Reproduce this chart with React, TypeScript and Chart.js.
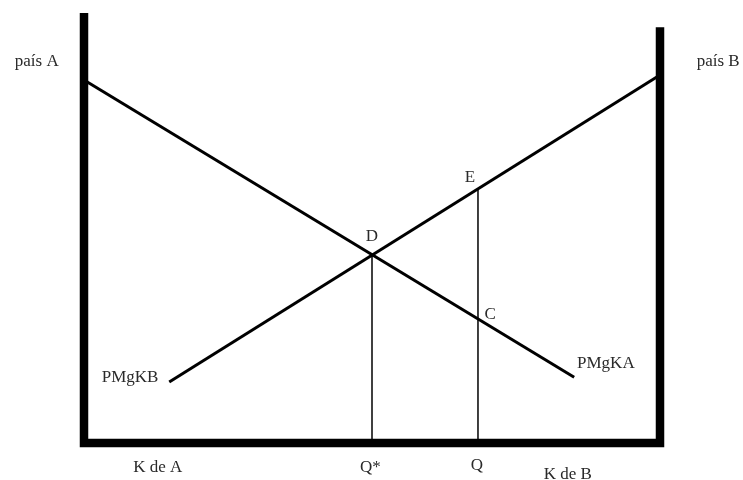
import React, { useEffect, useRef } from "react";
import { Chart, registerables } from "chart.js";

Chart.register(...registerables);

// Frame (the Edgeworth-type box): left wall, floor, right wall
const frameX = [0, 0, 100, 100];
const frameY = [100, 0, 0, 96.7];

// Marginal product of capital curves
const pmgkaX = [0, 85.1];
const pmgkaY = [84.4, 15.3];
const pmgkbX = [14.8, 100];
const pmgkbY = [14.2, 85.6];

// Vertical guides at Q* (through D) and Q (through E)
const qStarX = [50, 50];
const qStarY = [0, 43.8];
const qX = [68.4, 68.4];
const qY = [0, 59.1];

// Text labels and their anchor positions in data units
const labelTexts = ["país A", "país B", "PMgKB", "PMgKA", "D", "E", "C", "K de A", "Q*", "Q", "K de B"];
const labelX = [-8.2, 110.1, 8.0, 90.6, 50.0, 67.0, 70.5, 12.8, 49.7, 68.2, 84.0];
const labelY = [88.6, 88.6, 15.3, 18.4, 48.0, 61.7, 29.8, -5.6, -5.8, -5.3, -7.4];

const pts = (xs: number[], ys: number[]) => xs.map((x, i) => ({ x, y: ys[i] }));

export default function App() {
  const ref = useRef<HTMLCanvasElement | null>(null);

  useEffect(() => {
    if (!ref.current) return;
    const labelPlugin = {
      id: "labels",
      afterDatasetsDraw(chart: any) {
        const { ctx, scales } = chart;
        ctx.save();
        ctx.font = '17px "Liberation Serif", "DejaVu Serif", serif';
        ctx.fillStyle = "#2a2a2a";
        ctx.textAlign = "center";
        ctx.textBaseline = "middle";
        labelTexts.forEach((t, i) => {
          ctx.fillText(t, scales.x.getPixelForValue(labelX[i]), scales.y.getPixelForValue(labelY[i]));
        });
        ctx.restore();
      },
    };
    const line = (xs: number[], ys: number[], w: number) => ({
      data: pts(xs, ys),
      showLine: true,
      borderColor: "#000",
      backgroundColor: "#000",
      borderWidth: w,
      pointRadius: 0,
      borderJoinStyle: "miter" as const,
      borderCapStyle: "butt" as const,
      clip: false as any,
    });
    const chart = new Chart(ref.current, {
      type: "scatter",
      data: {
        datasets: [
          line(frameX, frameY, 8.5),
          line(pmgkaX, pmgkaY, 3),
          line(pmgkbX, pmgkbY, 3),
          line(qStarX, qStarY, 1.5),
          line(qX, qY, 1.5),
        ],
      },
      options: {
        responsive: false,
        animation: false,
        devicePixelRatio: 1,
        layout: { padding: { left: 84, right: 83, top: 13, bottom: 37 } },
        plugins: { legend: { display: false }, tooltip: { enabled: false } },
        scales: {
          x: { type: "linear", min: 0, max: 100, display: false },
          y: { type: "linear", min: 0, max: 100, display: false },
        },
      },
      plugins: [labelPlugin],
    });
    return () => chart.destroy();
  }, []);

  return (
    <div style={{ position: "fixed", left: 0, top: 0, width: 743, height: 480, background: "#fff" }}>
      <canvas ref={ref} width={743} height={480} />
    </div>
  );
}
